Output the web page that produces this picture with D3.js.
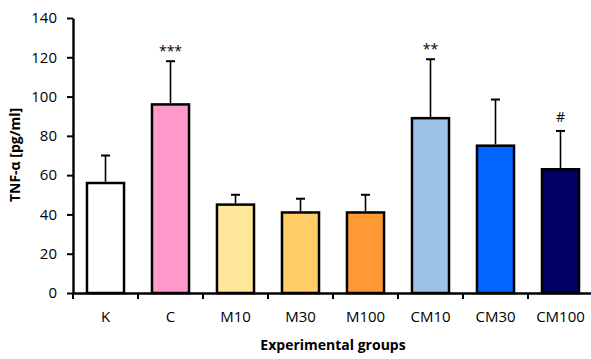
<!DOCTYPE html>
<html>
<head>
<meta charset="utf-8">
<script src="https://cdn.jsdelivr.net/npm/d3@7"></script>
<style>
  body { margin: 0; background: #fff; }
  text { font-family: "Open Sans", "Liberation Sans", sans-serif; fill: #000; }
</style>
</head>
<body>
<div id="chart"></div>
<script>
// data
var groups = ["K", "C", "M10", "M30", "M100", "CM10", "CM30", "CM100"];
var means = [56, 96, 45, 41, 41, 89, 75, 63];
var errTops = [70, 118, 50, 48, 50, 119, 98.5, 82.5];
var marks = ["", "***", "", "", "", "**", "", "#"];
var colors = ["#ffffff", "#ff99cc", "#ffe699", "#ffcc66", "#ff9933", "#9dc3e6", "#0066ff", "#000066"];
var yTicks = [0, 20, 40, 60, 80, 100, 120, 140];

var width = 591, height = 359;
var margin = {top: 18, left: 73, bottom: 66};

var svg = d3.select("#chart").append("svg")
    .attr("width", width)
    .attr("height", height);

var x = d3.scaleBand()
    .domain(groups)
    .range([margin.left, margin.left + 65 * groups.length])
    .paddingInner(0.43)
    .paddingOuter(0.215);

var y = d3.scaleLinear()
    .domain([0, 140])
    .range([height - margin.bottom, margin.top]);

// bars
svg.selectAll(".bar").data(groups).enter().append("rect")
    .attr("class", "bar")
    .attr("x", function(d) { return x(d); })
    .attr("width", x.bandwidth())
    .attr("y", function(d, i) { return y(means[i]); })
    .attr("height", function(d, i) { return y(0) - y(means[i]); })
    .attr("fill", function(d, i) { return colors[i]; })
    .attr("stroke", "#000")
    .attr("stroke-width", 2.5);

// error bars (upper only)
var cx = function(d) { return x(d) + x.bandwidth() / 2; };
svg.selectAll(".err").data(groups).enter().append("line")
    .attr("x1", cx).attr("x2", cx)
    .attr("y1", function(d, i) { return y(means[i]) - 1.2; })
    .attr("y2", function(d, i) { return y(errTops[i]); })
    .attr("stroke", "#000").attr("stroke-width", 1.6);
svg.selectAll(".cap").data(groups).enter().append("line")
    .attr("x1", function(d) { return cx(d) - 4.5; })
    .attr("x2", function(d) { return cx(d) + 4.5; })
    .attr("y1", function(d, i) { return y(errTops[i]); })
    .attr("y2", function(d, i) { return y(errTops[i]); })
    .attr("stroke", "#000").attr("stroke-width", 2);

// significance marks
svg.selectAll(".mark").data(groups).enter().append("text")
    .attr("x", cx)
    .attr("y", function(d, i) { return y(errTops[i]) - (marks[i] === "#" ? 9 : 5); })
    .attr("text-anchor", "middle")
    .style("font-size", "14px")
    .text(function(d, i) { return marks[i]; });

// y axis
var yAxis = svg.append("g")
    .attr("transform", "translate(" + margin.left + ",0)")
    .call(d3.axisLeft(y).tickValues(yTicks).tickSize(6).tickSizeOuter(0).tickPadding(10));
yAxis.select(".domain").attr("stroke-width", 2.4);
yAxis.selectAll(".tick line").attr("stroke-width", 2);
yAxis.selectAll("text").style("font-size", "15px").attr("fill", "#000");

// x axis
var xAxis = svg.append("g")
    .attr("transform", "translate(0," + y(0) + ")")
    .call(d3.axisBottom(x).tickSize(0).tickPadding(18));
xAxis.select(".domain").attr("stroke-width", 2.4);
xAxis.selectAll("text").style("font-size", "15px").attr("fill", "#000");
// category boundary ticks
var bounds = d3.range(groups.length + 1).map(function(i) { return margin.left + 65 * i; });
xAxis.selectAll(".btick").data(bounds).enter().append("line")
    .attr("x1", function(d) { return d; }).attr("x2", function(d) { return d; })
    .attr("y1", 0).attr("y2", 6)
    .attr("stroke", "#000").attr("stroke-width", 2);

// axis titles
svg.append("text")
    .attr("transform", "translate(20,155) rotate(-90)")
    .attr("text-anchor", "middle")
    .style("font-size", "14px")
    .style("font-weight", "bold")
    .text("TNF-α [pg/ml]");

svg.append("text")
    .attr("x", margin.left + 65 * groups.length / 2)
    .attr("y", 350)
    .attr("text-anchor", "middle")
    .style("font-size", "14px")
    .style("font-weight", "bold")
    .text("Experimental groups");
</script>
</body>
</html>
